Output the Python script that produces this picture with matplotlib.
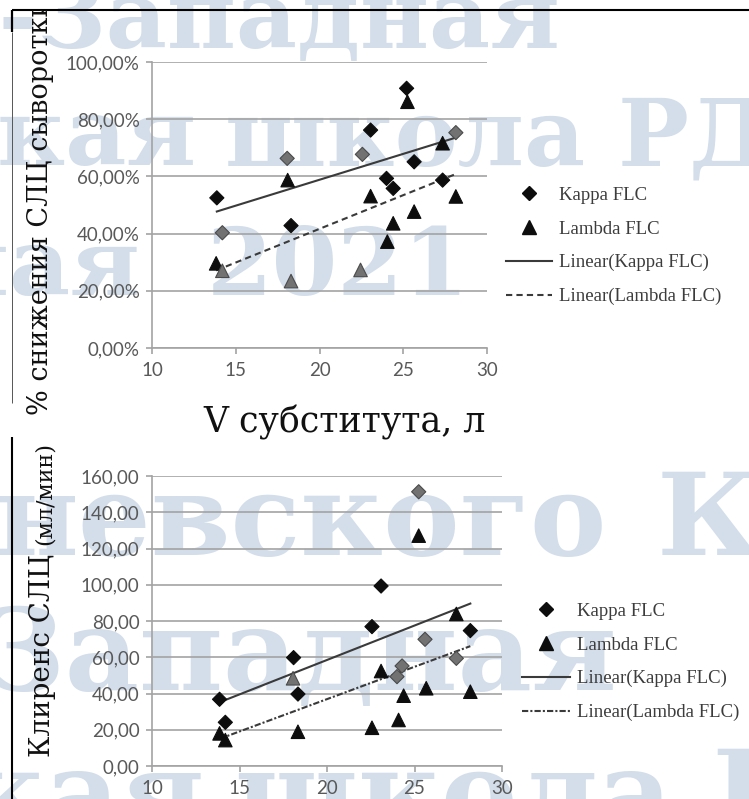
import numpy as np
import matplotlib
matplotlib.use("Agg")
import matplotlib.pyplot as plt
from matplotlib.lines import Line2D
from matplotlib.ticker import FuncFormatter, MultipleLocator
from matplotlib.transforms import Bbox, TransformedBbox

W, H, DPI = 749, 799, 100

# ---------------- data ----------------
x_ticks = [10, 15, 20, 25, 30]

# top panel: % reduction of serum FLC vs substitute volume (L)
top_kappa_x = [13.87, 14.2, 18.07, 18.3, 22.56, 23.05, 24.0, 24.4, 25.2, 25.65, 27.35, 28.14]
top_kappa_y = [52.5, 40.3, 66.3, 42.8, 67.7, 76.2, 59.3, 55.8, 90.8, 65.1, 58.7, 75.3]
top_lambda_x = [13.83, 14.2, 18.1, 18.3, 22.45, 23.05, 24.05, 24.4, 25.25, 25.65, 27.35, 28.14]
top_lambda_y = [29.6, 27.0, 58.7, 23.4, 27.3, 53.1, 37.2, 43.6, 86.1, 47.7, 71.6, 53.0]

# bottom panel: FLC clearance (ml/min) vs substitute volume (L)
bot_kappa_x = [13.86, 14.19, 18.09, 18.34, 22.57, 23.09, 24.0, 24.29, 25.24, 25.6, 27.39, 28.19]
bot_kappa_y = [36.8, 24.1, 59.8, 39.7, 76.9, 99.3, 49.3, 55.2, 151.3, 69.9, 59.4, 74.7]
bot_lambda_x = [13.86, 14.19, 18.06, 18.34, 22.57, 23.09, 24.09, 24.38, 25.24, 25.67, 27.39, 28.19]
bot_lambda_y = [18.0, 14.3, 48.4, 18.9, 21.1, 52.4, 25.4, 38.8, 127.1, 42.9, 83.9, 41.0]

legend_labels = ["Kappa FLC", "Lambda FLC", "Linear(Kappa FLC)", "Linear(Lambda FLC)"]
top_ylabel = "% снижения СЛЦ сыворотки"
mid_title = "V субститута, л"
bot_ylabel_main = "Клиренс СЛЦ "
bot_ylabel_unit = "(мл/мин)"

# points that appear grey (rendering tone only)
top_kappa_grey = [1, 2, 4, 11]
top_lambda_grey = [1, 3, 4]
bot_kappa_grey = [6, 7, 8, 9, 10]
bot_lambda_grey = [2]

# ---------------- styling ----------------
plt.rcParams["font.family"] = ["Lato", "DejaVu Sans"]
GRID = "#a3a3a3"
TICKC = "#595959"
DARK = "#0d0d0d"
GREY = "#727272"
LINEC = "#3a3a3a"

fig = plt.figure(figsize=(W / DPI, H / DPI), dpi=DPI)
fig.patch.set_facecolor("white")
renderer = fig.canvas.get_renderer()

ax_bg = fig.add_axes([0, 0, 1, 1], zorder=-5)
ax_bg.set_xlim(0, W)
ax_bg.set_ylim(H, 0)
ax_bg.axis("off")


def px_rect(l, t, r, b):
    return [l / W, 1 - b / H, (r - l) / W, (b - t) / H]


# ---------------- watermark ----------------
WM_COLOR = "#d3deea"
WM_FONT = dict(family="DejaVu Serif", weight="bold", color=WM_COLOR, zorder=1)


def fit_size(s, target):
    t = fig.text(0, 0, s, fontsize=100, family="DejaVu Serif", weight="bold")
    w = t.get_window_extent(renderer=renderer).width
    t.remove()
    return 100 * target / w


fs_a = fit_size("Западная", 523)
fs_b = fit_size("невского", 612)

wm_rows = [
    ("Северо-Западная", 560, 48, "right", fs_a),
    ("Невская", 197, 165, "right", fs_a),
    ("школа РДО", 225, 165, "left", fs_a),
    ("Ежегодная", 140, 295, "right", fs_a),
    ("2021", 207, 295, "left", fs_a),
    ("невского", 607, 555, "right", fs_b),
    ("Кремль", 657, 555, "left", fs_b),
    ("Северо-Западная", 617, 690, "right", fs_b),
    ("Невская", 205, 832, "right", fs_b),
    ("школа РДО", 235, 832, "left", fs_b),
]
for s, x, y, ha, fs in wm_rows:
    ax_bg.text(x, y, s, ha=ha, va="baseline", fontsize=fs, **WM_FONT)

# ---------------- frame lines of the pasted picture ----------------
ax_bg.plot([12, W], [10, 10], color="black", lw=1.5, zorder=6, solid_capstyle="butt")
ax_bg.plot([12, 12], [10, 32], color="black", lw=1.6, zorder=6, solid_capstyle="butt")
ax_bg.plot([12, 12], [32, 403], color="#555555", lw=0.7, zorder=6, solid_capstyle="butt")
ax_bg.plot([12, 12], [437, H], color="black", lw=1.5, zorder=6, solid_capstyle="butt")

# ---------------- texts ----------------
clip = TransformedBbox(Bbox([[0, 10], [W, H]]), ax_bg.transData)
t = ax_bg.text(54, 415, top_ylabel, rotation=90, ha="right", va="bottom",
               family="DejaVu Serif", fontsize=19.5, color="#111111", zorder=7)
t.set_clip_box(clip)
t.set_clip_on(True)

ax_bg.text(345, 433, mid_title, ha="center", va="baseline",
           family="DejaVu Serif", fontsize=25, color="#111111", zorder=7)

t1 = ax_bg.text(56, 757, bot_ylabel_main, rotation=90, ha="right", va="bottom",
                family="DejaVu Serif", fontsize=20, color="#111111", zorder=7)
bb = t1.get_window_extent(renderer=renderer)
top_of_main = H - bb.y1  # in data (pixel-from-top) coords
ax_bg.text(56, top_of_main, bot_ylabel_unit, rotation=90, ha="right", va="bottom",
           family="DejaVu Serif", fontsize=16, color="#111111", zorder=7)

# ---------------- charts ----------------
ax1 = fig.add_axes(px_rect(152, 62, 487, 348), zorder=1)
ax2 = fig.add_axes(px_rect(152, 476, 502, 766), zorder=1)


def style(ax, ymax, ystep, fmt):
    ax.set_facecolor("none")
    ax.set_xlim(x_ticks[0], x_ticks[-1])
    ax.set_ylim(0, ymax)
    ax.set_xticks(x_ticks)
    ax.yaxis.set_major_locator(MultipleLocator(ystep))
    ax.yaxis.set_major_formatter(FuncFormatter(fmt))
    for s in ["top", "right"]:
        ax.spines[s].set_visible(False)
    for s in ["left", "bottom"]:
        ax.spines[s].set_color(GRID)
        ax.spines[s].set_linewidth(1.2)
    ax.grid(axis="y", color=GRID, linewidth=1.2)
    ax.set_axisbelow(True)
    ax.tick_params(axis="both", direction="out", length=4, width=1.2, color=GRID,
                   labelcolor=TICKC, labelsize=13.5)
    ax.tick_params(axis="y", pad=5)
    ax.tick_params(axis="x", pad=6)


style(ax1, 100, 20, lambda v, p: f"{v:.2f}%".replace(".", ","))
style(ax2, 160, 20, lambda v, p: f"{v:.2f}".replace(".", ","))


def tones(n, grey):
    face = [GREY if i in grey else DARK for i in range(n)]
    edge = ["#4a4a4a" if i in grey else DARK for i in range(n)]
    return face, edge


def draw(ax, kx, ky, kg, lx, ly, lg, lam_style):
    for xs, ys, st in [(kx, ky, "-"), (lx, ly, lam_style)]:
        p = np.polyfit(xs, ys, 1)
        xe = np.array([min(xs), max(xs)])
        ax.plot(xe, np.polyval(p, xe), color=LINEC, lw=1.5, ls=st, zorder=2)
    f, e = tones(len(kx), kg)
    ax.scatter(kx, ky, marker="D", s=52, c=f, edgecolors=e, linewidths=0.8, zorder=3)
    f, e = tones(len(lx), lg)
    ax.scatter(lx, ly, marker="^", s=95, c=f, edgecolors=e, linewidths=0.8, zorder=4)


TOP_LAM = (0, (3, 2))
BOT_LAM = (0, (3, 1, 1, 1))
draw(ax1, top_kappa_x, top_kappa_y, top_kappa_grey, top_lambda_x, top_lambda_y, top_lambda_grey, TOP_LAM)
draw(ax2, bot_kappa_x, bot_kappa_y, bot_kappa_grey, bot_lambda_x, bot_lambda_y, bot_lambda_grey, BOT_LAM)


def legend(x_left, y_center, lam_style, handle_px):
    hs = [
        Line2D([], [], ls="none", marker="D", markersize=7, color=DARK),
        Line2D([], [], ls="none", marker="^", markersize=9.5, color=DARK),
        Line2D([], [], color=LINEC, lw=1.5),
        Line2D([], [], color=LINEC, lw=1.5, ls=lam_style),
    ]
    fsz = 13.5
    fpx = fsz * DPI / 72
    fig.legend(hs, legend_labels, loc="center left",
               bbox_to_anchor=(x_left / W, 1 - y_center / H),
               frameon=False, prop={"family": "Liberation Serif", "size": fsz},
               handlelength=handle_px / fpx, handletextpad=7 / fpx,
               labelspacing=0.88, borderpad=0, borderaxespad=0, numpoints=1,
               labelcolor="#3c3c3c")


legend(506, 246, TOP_LAM, 46)
legend(522, 662, BOT_LAM, 48)

fig.savefig("out.png", dpi=DPI, facecolor="white")
